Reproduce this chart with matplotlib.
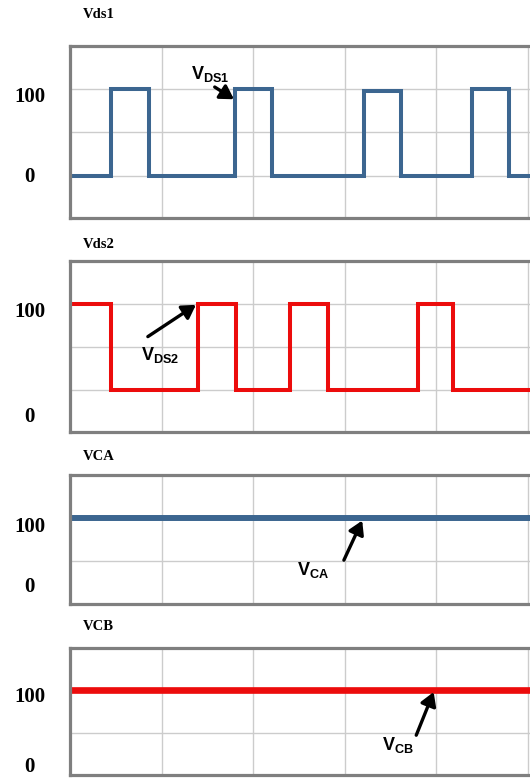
import numpy as np
import matplotlib
matplotlib.use('Agg')
import matplotlib.pyplot as plt

plt.rcParams['mathtext.fontset'] = 'custom'
plt.rcParams['mathtext.rm'] = 'Liberation Sans'
plt.rcParams['mathtext.bf'] = 'Liberation Sans:bold'

# switching instants (grid units) and levels
vds1_t = [0, 0.448, 0.862, 1.80, 2.205, 3.21, 3.61, 4.39, 4.79, 5.4]
vds1_v = [0, 100, 0, 100, 0, 97, 0, 100, 0, 0]
vds2_t = [0, 0.448, 1.397, 1.81, 2.40, 2.82, 3.80, 4.18, 5.4]
vds2_v = [100, 0, 100, 0, 100, 0, 100, 0, 0]
vca_t = [0, 5.4]
vca_v = [100, 100]
vcb_t = [0, 5.4]
vcb_v = [100, 100]

titles = ['Vds1', 'Vds2', 'VCA', 'VCB']
tick_labels = ['100', '0']

BLUE = '#3c6690'
RED = '#ec0c0c'
FRAME = '#7f7f7f'
GRID = '#cccccc'

W, H = 530, 778
PX = 91.6  # pixels per grid unit
XMAX = 5.3

# (top px, bottom px, ylim, tick positions for labels, title y px)
panels = [
    (46, 218, (-48, 149), [94, 2], 15),
    (261, 432, (-49, 150), [93, -29], 245),
    (475, 604, (3, 150), [93, 23], 457),
    (648, 775, (2, 150), [95, 12], 627),
]

series = [
    (vds1_t, vds1_v, BLUE, 2.9),
    (vds2_t, vds2_v, RED, 2.9),
    (vca_t, vca_v, BLUE, 4.3),
    (vcb_t, vcb_v, RED, 4.8),
]

# annotation: label, text xy, arrow tail xy, arrow head xy
notes = [
    (r'$\mathbf{V}_{\mathbf{DS1}}$', (1.53, 117), (1.58, 102), (1.79, 88)),
    (r'$\mathbf{V}_{\mathbf{DS2}}$', (0.98, 41), (0.85, 62), (1.375, 99)),
    (r'$\mathbf{V}_{\mathbf{CA}}$', (2.65, 40), (2.99, 51), (3.19, 97)),
    (r'$\mathbf{V}_{\mathbf{CB}}$', (3.58, 36), (3.78, 47), (3.97, 98)),
]

fig = plt.figure(figsize=(W / 100, H / 100), dpi=100)

for (top, bot, ylim, tpos, ty), (t, v, col, lw), title, note in zip(panels, series, titles, notes):
    ax = fig.add_axes([70 / W, 1 - bot / H, XMAX * PX / W, (bot - top) / H])
    ax.step(t, v, where='post', color=col, lw=lw, solid_joinstyle='miter')
    ax.set_xlim(0, XMAX)
    ax.set_ylim(*ylim)

    ax.set_xticks([])
    ax.set_xticks([1, 2, 3, 4, 5], minor=True)
    ax.set_yticks(tpos, labels=tick_labels)
    ax.set_yticks([0, 50, 100], minor=True)
    ax.grid(which='minor', color=GRID, lw=1)
    ax.set_axisbelow(True)
    ax.tick_params(which='both', length=0)
    ax.tick_params(axis='y', pad=29)
    for lab in ax.get_yticklabels():
        lab.set_horizontalalignment('center')
        lab.set_fontfamily('Liberation Serif')
        lab.set_fontweight('bold')
        lab.set_fontsize(15)
    for s in ax.spines.values():
        s.set_color(FRAME)
        s.set_linewidth(2.3)

    label, txy, tail, head = note
    ax.annotate('', xy=head, xytext=tail,
                arrowprops=dict(arrowstyle='-|>,head_length=0.5,head_width=0.3',
                                color='black', lw=2.4,
                                mutation_scale=16, shrinkA=0, shrinkB=0))
    ax.text(txy[0], txy[1], label, fontsize=13, ha='center', va='center')

    fig.text(83 / W, 1 - ty / H, title, fontsize=10.5, fontweight='bold',
             family='Liberation Serif', va='center', ha='left')

fig.savefig('out.png', dpi=100)
